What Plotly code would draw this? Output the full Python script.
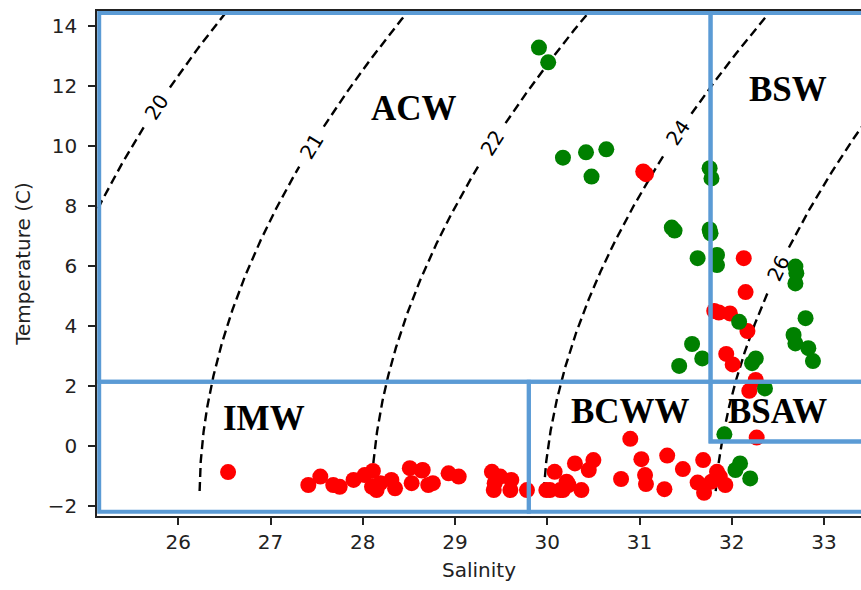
import numpy as np
import plotly.graph_objects as go

# ---------------- data ----------------
red_sal = [31.04, 31.07, 32.13, 32.15, 31.81, 31.86, 31.98, 32.17, 31.94, 32.01,
           32.26, 32.19, 32.27,
           30.90, 31.02, 31.30, 31.47, 31.69, 30.80, 31.06, 31.07, 31.27, 31.63,
           31.70, 31.84, 31.87, 31.78, 31.93, 30.30, 30.50, 30.45, 30.21, 30.37,
           30.17, 30.08, 30.03, 30.23, 29.99, 30.14,
           29.61, 29.78, 29.49, 28.65, 28.76, 28.93, 29.04, 29.40, 29.43, 29.42,
           29.60, 27.41, 27.54, 27.68, 27.75, 27.90, 28.02, 28.11, 28.10, 28.19,
           28.15, 28.31, 28.35, 28.51, 28.64, 28.53, 28.71, 26.54]
red_temp = [9.15, 9.06, 6.26, 5.13, 4.50, 4.45, 4.42, 3.83, 3.07, 2.72,
            2.20, 1.84, 0.28,
            0.24, -0.44, -0.32, -0.77, -0.47, -1.10, -0.97, -1.27, -1.44, -1.22,
            -1.56, -0.86, -1.02, -1.19, -1.30, -0.58, -0.47, -0.80, -1.19, -1.47,
            -1.47, -0.86, -1.47, -1.30, -1.47, -1.47,
            -1.13, -1.47, -1.02, -0.80, -1.24, -0.91, -1.02, -0.86, -1.24, -1.47,
            -1.47, -1.30, -1.02, -1.30, -1.36, -1.13, -0.97, -0.83, -1.36, -1.24,
            -1.47, -1.13, -1.41, -0.74, -0.82, -1.24, -1.30, -0.87]

green_sal = [29.91, 30.01, 30.17, 30.42, 30.64, 30.48, 31.76, 31.78, 31.35, 31.38,
             31.76, 31.77, 31.63, 31.84, 31.84, 32.69, 32.70, 32.69, 32.08, 32.80,
             32.67, 32.69, 32.83, 32.88, 31.57, 31.68, 31.43, 32.26, 32.22, 32.36,
             31.92, 32.04, 32.09, 32.20]
green_temp = [13.28, 12.79, 9.61, 9.79, 9.89, 8.98, 9.26, 8.92, 7.28, 7.18,
              7.22, 7.09, 6.26, 6.37, 6.03, 5.98, 5.76, 5.42, 4.14, 4.26,
              3.70, 3.42, 3.26, 2.83, 3.40, 2.92, 2.67, 2.92, 2.76, 1.92,
              0.39, -0.80, -0.58, -1.08]

# density contour levels and their printed labels
levels = [19.5, 21.0, 22.5, 24.0, 25.5]
level_labels = ["20", "21", "22", "24", "26"]
level_label_temp = [11.3, 9.98, 10.09, 10.42, 5.92]

# water-mass boxes
mass_names = ["ACW", "BSW", "IMW", "BCWW", "BSAW"]
box_sal_lo = [25.143, 31.77, 25.143, 29.8, 31.77]
box_sal_hi = [31.77, 34.0, 29.8, 34.0, 34.0]
box_temp_lo = [2.14, 0.15, -2.19, -2.19, 0.15]
box_temp_hi = [14.43, 14.43, 2.14, 2.14, 2.14]
mass_label_sal = [28.55, 32.61, 26.93, 30.90, 32.50]
mass_label_temp = [11.26, 11.87, 0.92, 1.14, 1.14]

x_ticks = [26, 27, 28, 29, 30, 31, 32, 33]
y_ticks = [-2, 0, 2, 4, 6, 8, 10, 12, 14]

# ---------------- layout geometry ----------------
W, H = 861, 590
ML, MR, MT, MB = 97, 0, 11, 74
x_range = [25.119, 33.401]
y_range = [-2.333, 14.5]
sx = (W - ML - MR) / (x_range[1] - x_range[0])
sy = (H - MT - MB) / (y_range[1] - y_range[0])

BLUE = "#5B9BD5"


def sigma_t(S, T):
    S = np.asarray(S, float) * 35.0 / 35.16504
    Cl = S / 1.80655
    s0 = -0.069 + 1.4708 * Cl - 0.00157 * Cl ** 2 + 0.0000398 * Cl ** 3
    sig = -((T - 3.98) ** 2) / 503.570 * (T + 283.0) / (T + 67.26)
    At = T * (4.7867 - 0.098185 * T + 0.0010843 * T ** 2) * 1e-3
    Bt = T * (18.030 - 0.8164 * T + 0.01667 * T ** 2) * 1e-6
    return sig + (s0 + 0.1324) * (1 - At + Bt * (s0 - 0.1324))


def sal_on_level(level, T):
    T = np.asarray(T, float)
    lo = np.full_like(T, 15.0)
    hi = np.full_like(T, 45.0)
    for _ in range(60):
        mid = 0.5 * (lo + hi)
        f = sigma_t(mid, T) - level
        lo = np.where(f < 0, mid, lo)
        hi = np.where(f < 0, hi, mid)
    return 0.5 * (lo + hi)


fig = go.Figure()

t_min = min(red_temp + green_temp) + 0.06
t_grid = np.linspace(t_min, 15.5, 600)
annotations = []
for lev, lab, lt in zip(levels, level_labels, level_label_temp):
    s_line = sal_on_level(lev, t_grid)
    s_lab = float(sal_on_level(lev, np.array([lt]))[0])
    s_a = float(sal_on_level(lev, np.array([lt - 0.1]))[0])
    s_b = float(sal_on_level(lev, np.array([lt + 0.1]))[0])
    ang = -np.degrees(np.arctan2(0.2 * sy, (s_b - s_a) * sx))
    dist = np.hypot((s_line - s_lab) * sx, (t_grid - lt) * sy)
    xs = [None if d < 23 else float(s) for s, d in zip(s_line, dist)]
    ys = [None if d < 23 else float(t) for t, d in zip(t_grid, dist)]
    fig.add_trace(go.Scatter(x=xs, y=ys, mode="lines", connectgaps=False,
                             line=dict(color="black", width=2.4, dash="9px,5px"),
                             hoverinfo="skip", showlegend=False))
    annotations.append(dict(x=s_lab, y=lt, xref="x", yref="y", text=lab,
                            showarrow=False, textangle=float(ang),
                            font=dict(family="DejaVu Sans", size=20, color="black")))

fig.add_trace(go.Scatter(x=red_sal, y=red_temp, mode="markers",
                         marker=dict(color="#FF0000", size=16, line=dict(width=0)),
                         showlegend=False))
fig.add_trace(go.Scatter(x=green_sal, y=green_temp, mode="markers",
                         marker=dict(color="#008000", size=16, line=dict(width=0)),
                         showlegend=False))

shapes = []
for x0, x1, y0, y1 in zip(box_sal_lo, box_sal_hi, box_temp_lo, box_temp_hi):
    shapes.append(dict(type="rect", xref="x", yref="y", x0=x0, x1=x1, y0=y0, y1=y1,
                       line=dict(color=BLUE, width=4), fillcolor="rgba(0,0,0,0)",
                       layer="above"))

for name, xs_, ys_ in zip(mass_names, mass_label_sal, mass_label_temp):
    annotations.append(dict(x=xs_, y=ys_, xref="x", yref="y", text="<b>%s</b>" % name,
                            showarrow=False,
                            font=dict(family="Liberation Serif", size=35, color="black")))

axis_font = dict(family="DejaVu Sans", size=20, color="#222222")
fig.update_layout(
    width=W, height=H,
    margin=dict(l=ML, r=MR, t=MT, b=MB, autoexpand=False),
    paper_bgcolor="white", plot_bgcolor="white",
    shapes=shapes, annotations=annotations,
    xaxis=dict(range=x_range, tickmode="array", tickvals=x_ticks,
               ticks="outside", ticklen=7, tickwidth=1.5, tickcolor="#222",
               showline=True, linecolor="#222", linewidth=1.5, mirror=True,
               showgrid=False, zeroline=False, tickfont=axis_font,
               title=dict(text="Salinity", font=axis_font, standoff=10)),
    yaxis=dict(range=y_range, tickmode="array", tickvals=y_ticks,
               ticks="outside", ticklen=7, tickwidth=1.5, tickcolor="#222",
               showline=True, linecolor="#222", linewidth=1.5,
               ticklabelstandoff=7,
               showgrid=False, zeroline=False, tickfont=axis_font,
               title=dict(text="Temperature (C)", font=axis_font, standoff=12)),
)

fig.write_html("out.html")
